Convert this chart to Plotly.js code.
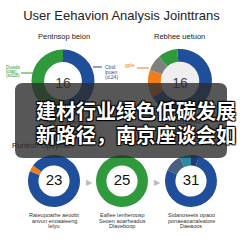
<!DOCTYPE html>
<html><head><meta charset="utf-8">
<script src="https://cdn.plot.ly/plotly-3.0.1.min.js"></script>
<style>html,body{margin:0;padding:0;background:#fff}#c{width:243px;height:243px}</style>
</head><body><div id="c"></div>
<script>
// ---- data ----
const chartTitle = "User Eehavion Analysis Jointtrans";
const topTitles = ["Pentnsop beion", "Rebhee uetuon"];
const topCenters = ["16", "16"];
const topFooters = ["Uaer lengosuory", "Daer Leastinos"];
const sectionTitle = "Runtroh Opeymen";

const donutALabels = ["Cbid lpuen", "Dueds lotan"];
const donutAValues = [50, 50];
const donutAColors = ["#1f4e9a", "#2e9a3c"];

const donutBLabels = ["Blue", "Orange", "Gray", "Green"];
const donutBValues = [68, 14, 8, 10];
const donutBColors = ["#1f4e9a", "#f07d1a", "#808080", "#2e9a3c"];

const labelGreen = ["Dueds", "lotan", "(sd28)"];
const labelBlue = ["Cbid", "lpuen", "(d.24)"];
const labelOrange = ["gple"];

const bottomNumbers = ["23", "25", "31"];
const bottom1Values = [4, 96];
const bottom1Colors = ["#f07d1a", "#1f4e9a"];
const bottom2Values = [100];
const bottom2Colors = ["#2e9a3c"];
const bottom3Values = [11, 7, 5, 77];
const bottom3Colors = ["#4a5f7d", "#2a8aa6", "#1a3c78", "#1f4e9a"];

const captions = [
  ["Rateupoathe aeoobt", "anvun enoaaieeng", "Ielyu"],
  ["Eaflee tenheroosp", "Seoen aoarheadus", "Dlaveboop"],
  ["Sidanoseets opaoo", "ponaeaoanaleatore", "Daeaoos"]
];
const overlayLines = ["建材行业绿色低碳发展", "新路径，南京座谈会如"];

// ---- layout helpers (pixel geometry) ----
const S = 243;
function dom(cx, cy, r) {
  return {x: [(cx - r) / S, (cx + r) / S], y: [1 - (cy + r) / S, 1 - (cy - r) / S]};
}
const topC = [[63, 81, 31.5], [180, 81, 32]];
const botC = [[54, 181, 26], [122, 181, 26], [191, 181, 26]];
const FONT = "Liberation Sans, Arial, sans-serif";

const pieBase = {type: "pie", hole: 0.6, sort: false, direction: "clockwise",
  textinfo: "none", hoverinfo: "skip", showlegend: false, marker: {line: {width: 0}}};

const traces = [];
// under-overlay texts (cartesian, pixel axes)
traces.push({type: "scatter", mode: "text", x: topC.map(c => c[0]), y: topC.map(c => c[1] + 3),
  text: topCenters, textfont: {size: 14, color: "#444", family: FONT}, hoverinfo: "skip", showlegend: false});
traces.push({type: "scatter", mode: "text", x: [66, 180], y: [122, 122],
  text: topFooters, textfont: {size: 6, color: "#333", family: FONT}, hoverinfo: "skip", showlegend: false});
traces.push({type: "scatter", mode: "text", x: [12], y: [146], textposition: "middle right",
  text: [sectionTitle], textfont: {size: 7.5, color: "#111", family: FONT}, hoverinfo: "skip", showlegend: false});
traces.push({type: "scatter", mode: "text", x: botC.map(c => c[0]), y: botC.map(c => c[1]),
  text: bottomNumbers, textfont: {size: 15, color: "#111", family: FONT}, hoverinfo: "skip", showlegend: false});

traces.push(Object.assign({}, pieBase, {labels: donutALabels, values: donutAValues,
  marker: {colors: donutAColors}, rotation: 0, domain: dom(...topC[0])}));
traces.push(Object.assign({}, pieBase, {labels: donutBLabels, values: donutBValues,
  marker: {colors: donutBColors}, rotation: -5, domain: dom(...topC[1])}));
traces.push(Object.assign({}, pieBase, {values: bottom1Values, marker: {colors: bottom1Colors},
  rotation: 292, domain: dom(...botC[0])}));
traces.push(Object.assign({}, pieBase, {values: bottom2Values, marker: {colors: bottom2Colors},
  rotation: 0, domain: dom(...botC[1])}));
traces.push(Object.assign({}, pieBase, {values: bottom3Values, marker: {colors: bottom3Colors},
  rotation: 295, domain: dom(...botC[2])}));

const ann = [];
function t(x, y, text, size, color, xanchor, extra) {
  ann.push(Object.assign({xref: "x", yref: "y", x: x, y: y, text: text, showarrow: false,
    xanchor: xanchor || "center", yanchor: "middle", font: {size: size, color: color, family: FONT}}, extra || {}));
}
t(64, 36, topTitles[0], 7.5, "#222");
t(179, 36, topTitles[1], 7.5, "#222");
labelGreen.forEach((s, i) => t(4, 67 + i * 4.2, s, 4.8, "#2e9a3c", "left"));
labelBlue.forEach((s, i) => t(103, 67 + i * 5, s, 5, "#1f4e9a", "left"));
labelOrange.forEach((s, i) => t(130, 65 + i * 5, s, 5, "#f07d1a"));
t(89, 182, "▶", 8, "#bbbbbb");
t(157, 182, "▶", 8, "#bbbbbb");
captions.forEach((lines, k) => lines.forEach((s, i) => t(botC[k][0], 215 + i * 5.5, s, 5.5, "#333")));
overlayLines.forEach((s, i) => ann.push({xref: "x", yref: "y", x: 136, y: 110 + i * 24, text: s,
  showarrow: false, xanchor: "center", yanchor: "middle",
  font: {size: 20, color: "#ffffff", family: "Noto Sans CJK SC", weight: 700,
    shadow: "1px 1px 1px #000, -1px -1px 1px #000, 1px -1px 1px #000, -1px 1px 1px #000"}}));

const shapes = [
  {type: "circle", xref: "x", yref: "y", x0: 161, x1: 199, y0: 62, y1: 100, fillcolor: "#eeeeee", line: {width: 0}, layer: "below"},
  {type: "line", xref: "x", yref: "y", x0: 21, x1: 33, y0: 73, y1: 73, line: {color: "#2e9a3c", width: 1}},
  {type: "line", xref: "x", yref: "y", x0: 93, x1: 102, y0: 67, y1: 67, line: {color: "#1f4e9a", width: 1}},
  {type: "line", xref: "x", yref: "y", x0: 137, x1: 149, y0: 68, y1: 68, line: {color: "#f07d1a", width: 1}},
  {type: "path", xref: "x", yref: "y", layer: "above", fillcolor: "rgba(45,45,45,0.8)", line: {width: 0},
    path: "M 23,83 L 219,83 Q 227,83 227,91 L 227,150 Q 227,158 219,158 L 23,158 Q 15,158 15,150 L 15,91 Q 15,83 23,83 Z"}
];

const layout = {
  width: 243, height: 243, margin: {l: 0, r: 0, t: 0, b: 0},
  paper_bgcolor: "#ffffff", plot_bgcolor: "#ffffff",
  title: {text: chartTitle, x: 0.5, xanchor: "center", y: 1 - 15 / 243, yanchor: "middle", yref: "container",
    font: {size: 13, color: "#222", family: FONT}},
  xaxis: {range: [0, 243], visible: false, fixedrange: true, domain: [0, 1]},
  yaxis: {range: [243, 0], visible: false, fixedrange: true, domain: [0, 1]},
  annotations: ann, shapes: shapes, showlegend: false
};
Plotly.newPlot("c", traces, layout, {staticPlot: true, displayModeBar: false});
</script></body></html>
